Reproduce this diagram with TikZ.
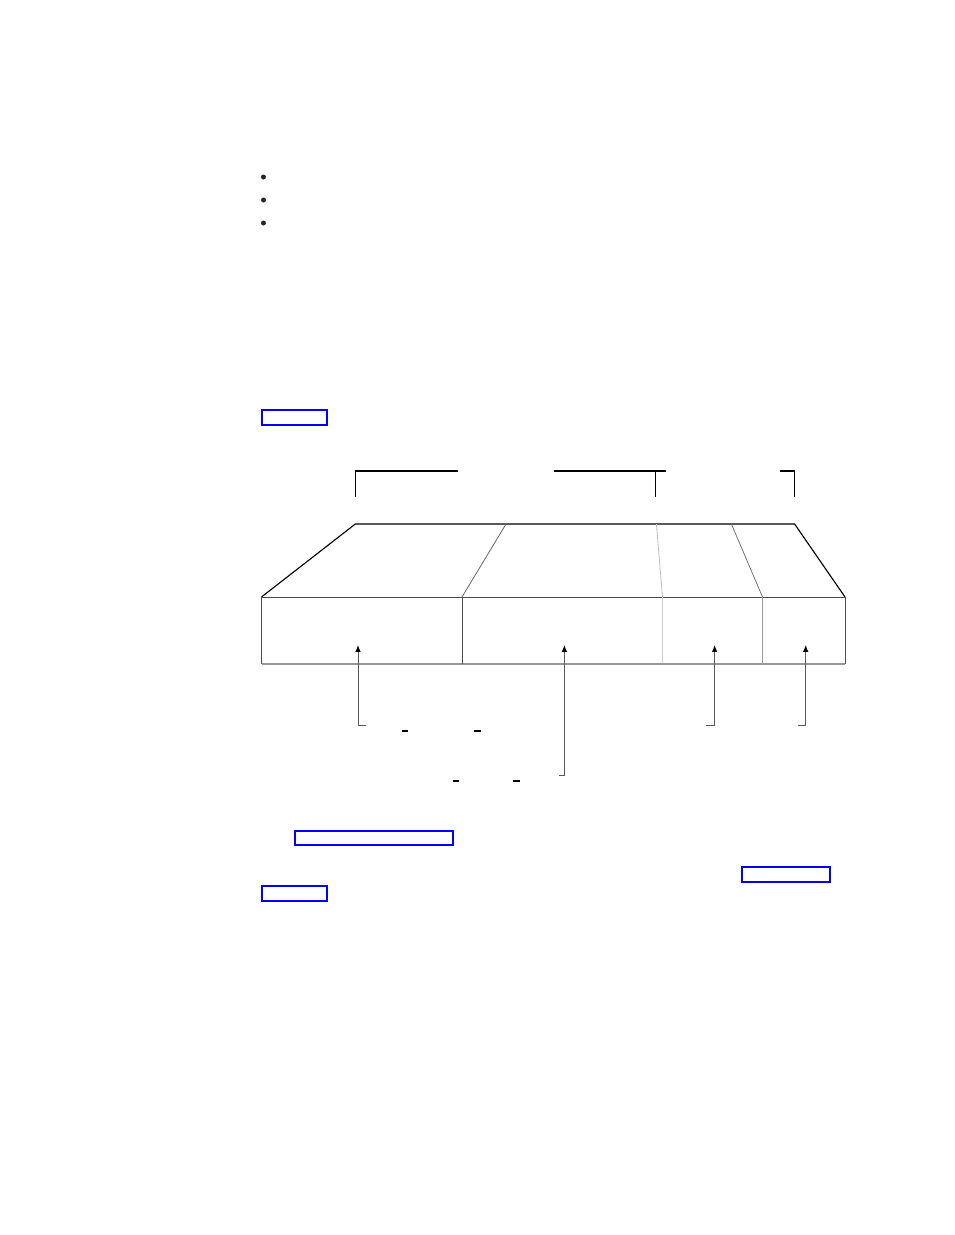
\documentclass[tikz,border=0pt]{standalone}
\usetikzlibrary{arrows.meta}

\tikzset{
  link/.style={draw=blue, line width=1.5pt},
  edge/.style={line width=0.7pt, draw=black!70},
  pointer/.style={line width=0.75pt, draw=black!65, -{Latex[length=5.2pt,width=4.2pt,black]}},
}

\begin{document}
\begin{tikzpicture}[x=0.75pt,y=-0.75pt]
  \useasboundingbox (0,0) rectangle (954,1235);

  % list bullets
  \foreach \y in {177,200,223} {
    \fill[black!85] (263.5,\y) circle [radius=2.5];
  }

  % cross-reference boxes
  \draw[link] (262,409.5) rectangle (327,425);
  \draw[link] (295,831) rectangle (452.5,845);
  \draw[link] (742,867) rectangle (830,882);
  \draw[link] (262,886) rectangle (326.5,900.5);

  % brackets above the top face
  \draw[line width=0.9pt] (355.3,497) -- (355.3,471) -- (458,471);
  \draw[line width=0.9pt] (554,471) -- (666,471);
  \draw[line width=0.9pt] (655.6,471) -- (655.6,497);
  \draw[line width=0.9pt] (780,471) -- (794.6,471) -- (794.6,497);

  % top face
  \coordinate (tl) at (355.3,524);
  \coordinate (tr) at (794.6,524);
  \coordinate (bl) at (261.5,597);
  \coordinate (br) at (845,597);
  \draw[line width=0.85pt] (bl) -- (tl) -- (tr) -- (br);
  \draw[black!60, line width=0.6pt] (506,524) -- (462,597);
  \draw[black!25, line width=0.6pt] (656.4,524) -- (662.5,597);
  \draw[black!55, line width=0.6pt] (731.4,524) -- (762.5,597);

  % front face
  \draw[edge] (bl) -- (br) -- (845,663.5);
  \draw[edge] (bl) -- (261.5,663.5);
  \draw[black!40, line width=1.5pt] (261.5,663.5) -- (845,663.5);
  \draw[edge] (462,597) -- (462,663.5);
  \draw[black!20, line width=0.8pt] (662.5,597) -- (662.5,663);
  \draw[black!40, line width=0.8pt] (762.5,597) -- (762.5,663);

  % pointers from the labels into the front face
  \foreach \x/\y/\h [count=\i] in {358/725.5/366, 564.4/775.5/558.5, 714.6/725.5/706, 805.7/725.5/797.5} {
    \coordinate (hook\i) at (\h,\y);
    \coordinate (bend\i) at (\x,\y);
    \coordinate (tip\i) at (\x,645);
    \draw[pointer] (hook\i) -- (bend\i) -- (tip\i);
  }

  % underscores left in the label lines
  \foreach \a/\b/\y in {401.7/408/731, 474/481/731, 452.5/459/781, 513/519.5/781} {
    \draw[line width=0.9pt] (\a,\y) -- (\b,\y);
  }
\end{tikzpicture}
\end{document}
